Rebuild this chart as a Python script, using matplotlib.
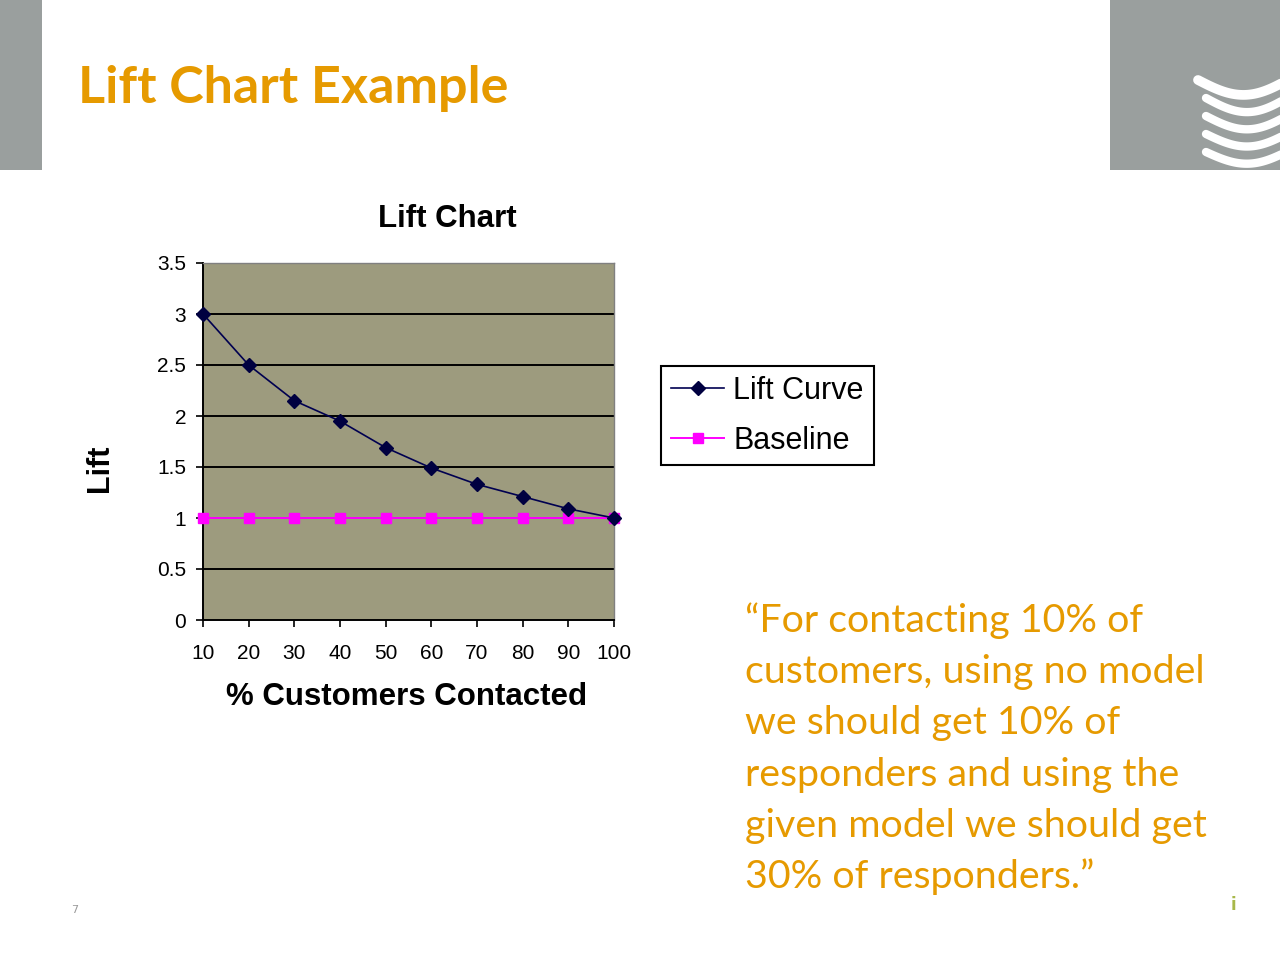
import matplotlib
matplotlib.use("Agg")
import matplotlib.pyplot as plt
import numpy as np
from matplotlib.patches import Rectangle

# ---- data ----
pct_contacted = [10, 20, 30, 40, 50, 60, 70, 80, 90, 100]
lift_curve = [3.0, 2.5, 2.15, 1.95, 1.69, 1.49, 1.33, 1.21, 1.09, 1.0]
baseline = [1, 1, 1, 1, 1, 1, 1, 1, 1, 1]
y_ticks = [0, 0.5, 1, 1.5, 2, 2.5, 3, 3.5]
y_tick_labels = ["0", "0.5", "1", "1.5", "2", "2.5", "3", "3.5"]
series_names = ["Lift Curve", "Baseline"]
slide_title = "Lift Chart Example"
chart_title = "Lift Chart"
x_label = "% Customers Contacted"
y_label = "Lift"
quote_lines = [
    "\u201cFor contacting 10% of",
    "customers, using no model",
    "we should get 10% of",
    "responders and using the",
    "given model we should get",
    "30% of responders.\u201d",
]

W, H = 1280, 960
fig = plt.figure(figsize=(W / 100, H / 100), dpi=100)
fig.patch.set_facecolor("white")

# ---- slide decoration layer (pixel coordinates) ----
deco = fig.add_axes([0, 0, 1, 1], zorder=0)
deco.set_xlim(0, W)
deco.set_ylim(H, 0)
deco.axis("off")
grey = "#9a9f9e"
deco.add_patch(Rectangle((0, 0), 42, 170, color=grey, lw=0))
deco.add_patch(Rectangle((1110, 0), 170, 170, color=grey, lw=0))
# wave logo
xs = np.linspace(0, 1, 60)
for i in range(5):
    x0 = 1198 + (8 if i > 0 else 0)
    xx = x0 + xs * (1282 - x0)
    y0 = 80 + i * 18
    yy = y0 + 16 * np.sin(xs * np.pi * 0.9) * (1 - 0.2 * i / 4) - 2 * xs
    deco.plot(xx, yy, color="white", lw=7 if i == 0 else 6,
              solid_capstyle="round")
# slide title
orange = "#E69A00"
deco.text(78, 88, slide_title, fontsize=37.5, fontweight="bold", color=orange,
          family="Lato", va="center", ha="left")
# quote
for i, line in enumerate(quote_lines):
    deco.text(745, 621 + i * 51.2, line, fontsize=28.4, color=orange,
              family="Lato", va="center", ha="left")
# page number and footer mark
deco.text(75, 910, "7", fontsize=8, color="#9a9a9a", va="center", ha="center")
deco.text(1233, 905, "i", fontsize=12, color="#a8b84a", va="center",
          ha="center", fontweight="bold")

# ---- chart ----
ax = fig.add_axes([203 / W, 1 - 620 / H, 411 / W, 357 / H], zorder=2)
ax.set_facecolor("#9d9b7e")
ax.set_xlim(10, 100)
ax.set_ylim(0, 3.5)
ax.set_yticks(y_ticks)
ax.set_yticklabels(y_tick_labels)
ax.set_xticks(pct_contacted)
ax.set_xticklabels([str(v) for v in pct_contacted])
for yv in y_ticks[1:-1]:
    ax.axhline(yv, color="black", lw=1.4, zorder=1)

ax.plot(pct_contacted, lift_curve, color="#000050", lw=1.2, marker="D",
        markersize=7, markerfacecolor="#000040", markeredgecolor="#000040",
        label=series_names[0], zorder=4, clip_on=False)
ax.plot(pct_contacted, baseline, color="#FF00FF", lw=1.4, marker="s",
        markersize=7.5, markerfacecolor="#FF00FF", markeredgecolor="#FF00FF",
        label=series_names[1], zorder=3, clip_on=False)

for s in ["top", "right"]:
    ax.spines[s].set_color("#808080")
    ax.spines[s].set_linewidth(1.0)
for s in ["left", "bottom"]:
    ax.spines[s].set_color("black")
    ax.spines[s].set_linewidth(1.4)
ax.tick_params(direction="out", length=5, width=1.2, colors="black",
               labelsize=15)
for lab in ax.get_xticklabels() + ax.get_yticklabels():
    lab.set_family("Liberation Sans")
ax.tick_params(axis="x", pad=12)
ax.tick_params(axis="y", pad=7)

fig.text(447 / W, 1 - 219 / H, chart_title, fontsize=22.5, fontweight="bold",
         family="Liberation Sans", ha="center", va="center")
ax.set_xlabel(x_label, fontsize=22.5, fontweight="bold",
              family="Liberation Sans")
ax.xaxis.set_label_coords((407 - 203) / 411, -(697 - 620) / 357)
ax.xaxis.label.set_va("center")
ax.set_ylabel(y_label, fontsize=22, fontweight="bold",
              family="Liberation Sans")
ax.yaxis.set_label_coords(-(203 - 100) / 411, (620 - 468) / 357)
ax.yaxis.label.set_va("center")

leg = ax.legend(loc="upper left", bbox_to_anchor=(661 / W, 1 - 366 / H),
                bbox_transform=fig.transFigure, frameon=True, fancybox=False,
                prop={"family": "Liberation Sans", "size": 22},
                handlelength=1.75, handletextpad=0.3, borderpad=0.32,
                labelspacing=0.65, borderaxespad=0)
leg.get_frame().set_edgecolor("black")
leg.get_frame().set_linewidth(1.5)
leg.get_frame().set_facecolor("white")
leg.get_frame().set_alpha(1)

fig.savefig("out.png", dpi=100)
